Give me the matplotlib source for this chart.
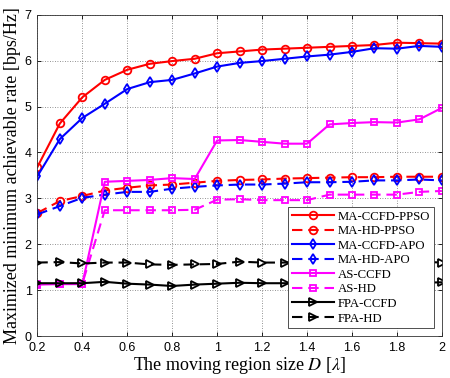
import matplotlib
matplotlib.use("Agg")
import matplotlib.pyplot as plt
import numpy as np

D = [0.2, 0.3, 0.4, 0.5, 0.6, 0.7, 0.8, 0.9, 1.0, 1.1, 1.2, 1.3, 1.4, 1.5, 1.6, 1.7, 1.8, 1.9, 2.0]

ma_ccfd_ppso = [3.68, 4.63, 5.20, 5.58, 5.80, 5.93, 5.99, 6.04, 6.16, 6.20, 6.24, 6.26, 6.28, 6.30, 6.32, 6.34, 6.39, 6.38, 6.37]
ma_hd_ppso = [2.68, 2.94, 3.05, 3.17, 3.23, 3.28, 3.30, 3.34, 3.38, 3.40, 3.41, 3.43, 3.44, 3.45, 3.46, 3.46, 3.47, 3.47, 3.47]
ma_ccfd_apo = [3.48, 4.29, 4.75, 5.06, 5.38, 5.53, 5.58, 5.72, 5.87, 5.95, 5.99, 6.04, 6.09, 6.13, 6.19, 6.27, 6.26, 6.32, 6.30]
ma_hd_apo = [2.65, 2.83, 3.01, 3.08, 3.14, 3.14, 3.21, 3.25, 3.28, 3.30, 3.30, 3.32, 3.35, 3.35, 3.36, 3.39, 3.39, 3.41, 3.39]
as_ccfd = [1.12, 1.13, 1.13, 3.36, 3.38, 3.40, 3.44, 3.42, 4.26, 4.27, 4.23, 4.19, 4.19, 4.61, 4.64, 4.66, 4.65, 4.72, 4.97]
as_hd = [1.13, 1.14, 1.14, 2.74, 2.74, 2.74, 2.74, 2.75, 2.97, 2.98, 2.96, 2.96, 2.96, 3.08, 3.08, 3.08, 3.08, 3.14, 3.16]
fpa_ccfd = [1.15, 1.15, 1.15, 1.18, 1.14, 1.12, 1.09, 1.12, 1.14, 1.16, 1.15, 1.15, 1.15, 1.15, 1.16, 1.16, 1.16, 1.16, 1.17]
fpa_hd = [1.60, 1.61, 1.58, 1.60, 1.60, 1.56, 1.55, 1.56, 1.57, 1.62, 1.60, 1.60, 1.60, 1.60, 1.61, 1.61, 1.61, 1.62, 1.60]

labels = ["MA-CCFD-PPSO", "MA-HD-PPSO", "MA-CCFD-APO", "MA-HD-APO",
          "AS-CCFD", "AS-HD", "FPA-CCFD", "FPA-HD"]
xticks = [0.2, 0.4, 0.6, 0.8, 1.0, 1.2, 1.4, 1.6, 1.8, 2.0]
xticklabels = ["0.2", "0.4", "0.6", "0.8", "1", "1.2", "1.4", "1.6", "1.8", "2"]
yticks = [0, 1, 2, 3, 4, 5, 6, 7]

plt.rcParams['mathtext.fontset'] = 'stix'

fig = plt.figure(figsize=(4.5, 3.78), dpi=100)
ax = fig.add_axes([0.0830, 0.1111, 0.8990, 0.8500])

series = [
    (ma_ccfd_ppso, 'red', '-', 'o'),
    (ma_hd_ppso, 'red', '--', 'o'),
    (ma_ccfd_apo, 'blue', '-', 'd'),
    (ma_hd_apo, 'blue', '--', 'd'),
    (as_ccfd, 'magenta', '-', 's'),
    (as_hd, 'magenta', '--', 's'),
    (fpa_ccfd, 'black', '-', '>'),
    (fpa_hd, 'black', '--', '>'),
]
for (vals, c, ls, m), lab in zip(series, labels):
    kw = {}
    if ls == '--':
        kw['dashes'] = (5, 2.8)
    ms = 5.5 if m != 's' else 5
    ax.plot(D, vals, color=c, linestyle=ls, marker=m, markersize=ms,
            markerfacecolor='none', markeredgewidth=1.3, linewidth=1.5,
            label=lab, **kw)

ax.set_xlim(0.2, 2.0)
ax.set_ylim(0, 7)
ax.set_xticks(xticks)
ax.set_xticklabels(xticklabels, fontfamily='Liberation Sans', fontsize=9)
ax.set_yticks(yticks)
ax.set_yticklabels([str(v) for v in yticks], fontfamily='Liberation Sans', fontsize=9)
ax.tick_params(direction='in', top=True, right=True, length=3, width=0.6)
ax.tick_params(axis='x', pad=4)
ax.tick_params(axis='y', pad=4)
ax.grid(True, linestyle=(0, (1, 2)), color='#333333', linewidth=0.6, alpha=0.7)
for s in ax.spines.values():
    s.set_linewidth(0.6)
    s.set_color('#333333')

ax.set_xlabel(r"The moving region size $D$ [$\lambda$]", fontfamily='Liberation Serif', fontsize=13, labelpad=1)
ax.set_ylabel("Maximized minimum achievable rate [bps/Hz]", fontfamily='Liberation Serif', fontsize=13, labelpad=3)

leg = ax.legend(loc='lower right', prop={'family': 'Liberation Serif', 'size': 9.2},
                frameon=True, fancybox=False, edgecolor='#333333', framealpha=1,
                borderpad=0.3, labelspacing=0.2, handlelength=3.3, handletextpad=0.3,
                borderaxespad=0.6)
leg.get_frame().set_linewidth(0.6)

fig.savefig("out.png", dpi=100)
